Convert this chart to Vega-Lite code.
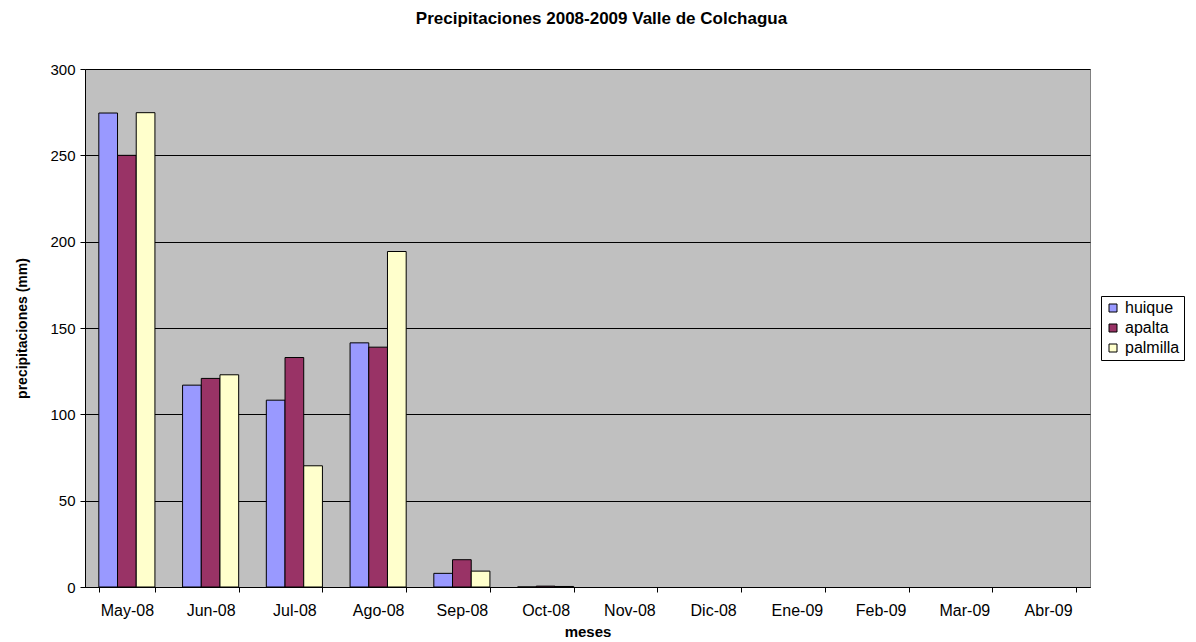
{
  "$schema": "https://vega.github.io/schema/vega-lite/v6.json",
  "autosize": {"type": "none"},
  "padding": {"left": 85, "top": 69, "right": 106, "bottom": 55},
  "width": 1005,
  "height": 518,
  "background": "white",
  "title": {
    "text": "Precipitaciones 2008-2009 Valle de Colchagua",
    "font": "Liberation Sans",
    "fontSize": 17,
    "fontWeight": "bold",
    "color": "black",
    "anchor": "middle",
    "dx": 14,
    "offset": 34
  },
  "data": {
    "values": [
      {"mes": "May-08", "estacion": "huique", "pp": 274.5},
      {"mes": "May-08", "estacion": "apalta", "pp": 250},
      {"mes": "May-08", "estacion": "palmilla", "pp": 274.7},
      {"mes": "Jun-08", "estacion": "huique", "pp": 116.9},
      {"mes": "Jun-08", "estacion": "apalta", "pp": 120.8},
      {"mes": "Jun-08", "estacion": "palmilla", "pp": 122.9},
      {"mes": "Jul-08", "estacion": "huique", "pp": 108.2},
      {"mes": "Jul-08", "estacion": "apalta", "pp": 132.9},
      {"mes": "Jul-08", "estacion": "palmilla", "pp": 70.2},
      {"mes": "Ago-08", "estacion": "huique", "pp": 141.4},
      {"mes": "Ago-08", "estacion": "apalta", "pp": 138.9},
      {"mes": "Ago-08", "estacion": "palmilla", "pp": 194.3},
      {"mes": "Sep-08", "estacion": "huique", "pp": 7.9},
      {"mes": "Sep-08", "estacion": "apalta", "pp": 15.8},
      {"mes": "Sep-08", "estacion": "palmilla", "pp": 9.2},
      {"mes": "Oct-08", "estacion": "huique", "pp": 0},
      {"mes": "Oct-08", "estacion": "apalta", "pp": 0.5},
      {"mes": "Oct-08", "estacion": "palmilla", "pp": 0.3}
    ]
  },
  "mark": {"type": "bar", "stroke": "black", "strokeWidth": 1},
  "encoding": {
    "x": {
      "field": "mes",
      "type": "nominal",
      "sort": null,
      "scale": {
        "domain": ["May-08", "Jun-08", "Jul-08", "Ago-08", "Sep-08", "Oct-08", "Nov-08", "Dic-08", "Ene-09", "Feb-09", "Mar-09", "Abr-09"],
        "paddingInner": 0.33,
        "paddingOuter": 0.165
      },
      "axis": {
        "title": "meses",
        "titleFont": "Liberation Sans",
        "titleFontSize": 15,
        "titleFontWeight": "bold",
        "titleColor": "black",
        "titlePadding": 6,
        "labelFont": "Liberation Sans",
        "labelFontSize": 16,
        "labelColor": "black",
        "labelAngle": 0,
        "labelPadding": 10,
        "tickBand": "extent",
        "tickSize": 5,
        "tickColor": "black",
        "domainColor": "black",
        "grid": false
      }
    },
    "xOffset": {
      "field": "estacion",
      "type": "nominal",
      "sort": ["huique", "apalta", "palmilla"],
      "scale": {"paddingInner": 0, "paddingOuter": 0}
    },
    "y": {
      "field": "pp",
      "type": "quantitative",
      "scale": {"domain": [0, 300], "nice": false},
      "axis": {
        "title": "precipitaciones (mm)",
        "titleFont": "Liberation Sans",
        "titleFontSize": 14,
        "titleFontWeight": "bold",
        "titleColor": "black",
        "titlePadding": 20,
        "values": [0, 50, 100, 150, 200, 250, 300],
        "labelFont": "Liberation Sans",
        "labelFontSize": 15,
        "labelColor": "black",
        "labelPadding": 5,
        "tickSize": 5,
        "tickColor": "black",
        "domainColor": "black",
        "grid": true,
        "gridColor": "black",
        "gridWidth": 1
      }
    },
    "fill": {
      "field": "estacion",
      "type": "nominal",
      "sort": ["huique", "apalta", "palmilla"],
      "scale": {
        "domain": ["huique", "apalta", "palmilla"],
        "range": ["#9999FF", "#993366", "#FFFFCC"]
      },
      "legend": {
        "title": null,
        "orient": "none",
        "legendX": 1016,
        "legendY": 227,
        "symbolType": "square",
        "symbolSize": 64,
        "symbolStrokeColor": "black",
        "symbolStrokeWidth": 1,
        "labelFont": "Liberation Sans",
        "labelFontSize": 16,
        "labelColor": "black",
        "labelOffset": 4,
        "rowPadding": 4,
        "padding": 4,
        "strokeColor": "black",
        "fillColor": "white"
      }
    }
  },
  "config": {
    "view": {"fill": "#C0C0C0", "stroke": "#808080", "strokeWidth": 1}
  }
}
